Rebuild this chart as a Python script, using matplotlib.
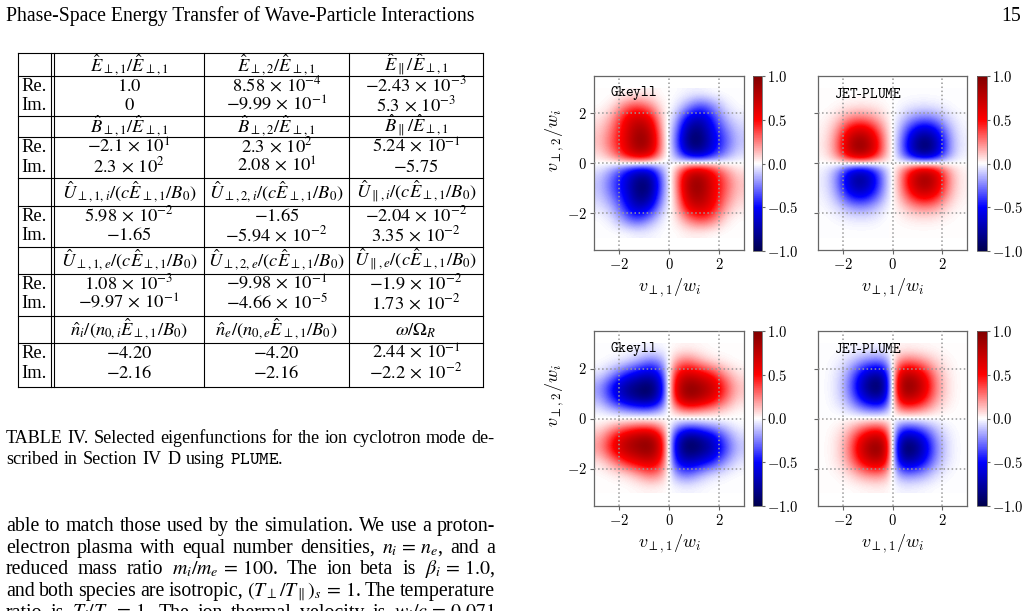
import numpy as np
import matplotlib
matplotlib.use("Agg")
import matplotlib.pyplot as plt
from matplotlib.ticker import FuncFormatter

plt.rcParams['mathtext.fontset'] = 'cm'

# ---- table data (ion cyclotron mode eigenfunctions) ----
row_names = ["Re.", "Im."]
table_headers = [
    [r"$\hat{E}_{\perp,1}/\hat{E}_{\perp,1}$", r"$\hat{E}_{\perp,2}/\hat{E}_{\perp,1}$", r"$\hat{E}_{\parallel}/\hat{E}_{\perp,1}$"],
    [r"$\hat{B}_{\perp,1}/\hat{E}_{\perp,1}$", r"$\hat{B}_{\perp,2}/\hat{E}_{\perp,1}$", r"$\hat{B}_{\parallel}/\hat{E}_{\perp,1}$"],
    [r"$\hat{U}_{\perp,1,i}/(c\hat{E}_{\perp,1}/B_0)$", r"$\hat{U}_{\perp,2,i}/(c\hat{E}_{\perp,1}/B_0)$", r"$\hat{U}_{\parallel,i}/(c\hat{E}_{\perp,1}/B_0)$"],
    [r"$\hat{U}_{\perp,1,e}/(c\hat{E}_{\perp,1}/B_0)$", r"$\hat{U}_{\perp,2,e}/(c\hat{E}_{\perp,1}/B_0)$", r"$\hat{U}_{\parallel,e}/(c\hat{E}_{\perp,1}/B_0)$"],
    [r"$\hat{n}_i/(n_{0,i}\hat{E}_{\perp,1}/B_0)$", r"$\hat{n}_e/(n_{0,e}\hat{E}_{\perp,1}/B_0)$", r"$\omega/\Omega_R$"],
]
re_values = [
    ["1.0", "8.58e-4", "-2.43e-3"],
    ["-2.1e1", "2.3e2", "5.24e-1"],
    ["5.98e-2", "-1.65", "-2.04e-2"],
    ["1.08e-3", "-9.98e-1", "-1.9e-2"],
    ["-4.20", "-4.20", "2.44e-1"],
]
im_values = [
    ["0", "-9.99e-1", "5.3e-3"],
    ["2.3e2", "2.08e1", "-5.75"],
    ["-1.65", "-5.94e-2", "3.35e-2"],
    ["-9.97e-1", "-4.66e-5", "1.73e-2"],
    ["-2.16", "-2.16", "-2.2e-2"],
]

# ---- velocity-space fields, nodes at v = -2.75 ... 2.75 (rows: top v2=2.75 -> bottom) ----
v_nodes = [-2.75, -2.25, -1.75, -1.25, -0.75, -0.25, 0.25, 0.75, 1.25, 1.75, 2.25, 2.75]

gkeyll_top = [
    [0.00, 0.00, 0.00, 0.02, 0.02, 0.00, 0.00, -0.02, -0.02, 0.00, 0.00, 0.00],
    [0.00, 0.05, 0.30, 0.40, 0.25, 0.02, -0.02, -0.20, -0.40, -0.25, -0.05, 0.00],
    [0.05, 0.20, 0.55, 0.75, 0.60, 0.05, -0.10, -0.60, -0.75, -0.45, -0.15, -0.05],
    [0.10, 0.30, 0.60, 0.90, 0.80, 0.10, -0.20, -0.85, -0.90, -0.55, -0.30, -0.10],
    [0.12, 0.35, 0.60, 0.95, 0.85, 0.15, -0.25, -0.90, -0.95, -0.60, -0.35, -0.12],
    [0.05, 0.20, 0.50, 0.70, 0.60, 0.10, -0.15, -0.55, -0.65, -0.45, -0.20, -0.05],
    [-0.05, -0.20, -0.45, -0.65, -0.60, -0.15, 0.10, 0.60, 0.70, 0.50, 0.20, 0.05],
    [-0.12, -0.35, -0.60, -0.90, -0.90, -0.25, 0.15, 0.85, 0.95, 0.60, 0.35, 0.12],
    [-0.10, -0.30, -0.55, -0.90, -0.85, -0.20, 0.10, 0.80, 0.90, 0.60, 0.30, 0.10],
    [-0.05, -0.15, -0.45, -0.75, -0.60, -0.10, 0.05, 0.60, 0.75, 0.55, 0.20, 0.05],
    [0.00, -0.05, -0.25, -0.40, -0.20, -0.02, 0.02, 0.25, 0.40, 0.30, 0.05, 0.00],
    [0.00, 0.00, 0.00, -0.02, -0.02, 0.00, 0.00, 0.02, 0.02, 0.00, 0.00, 0.00],
]

plume_top = [
    [0.00, 0.00, 0.00, 0.00, 0.00, 0.00, 0.00, 0.00, 0.00, 0.00, 0.00, 0.00],
    [0.00, 0.01, 0.04, 0.05, 0.04, 0.01, -0.01, -0.04, -0.05, -0.04, -0.01, 0.00],
    [0.01, 0.08, 0.24, 0.30, 0.21, 0.05, -0.05, -0.21, -0.30, -0.24, -0.08, -0.01],
    [0.02, 0.19, 0.60, 0.75, 0.53, 0.11, -0.11, -0.53, -0.75, -0.60, -0.19, -0.02],
    [0.03, 0.25, 0.80, 1.00, 0.70, 0.15, -0.15, -0.70, -1.00, -0.80, -0.25, -0.03],
    [0.02, 0.20, 0.64, 0.80, 0.56, 0.12, -0.12, -0.56, -0.80, -0.64, -0.20, -0.02],
    [-0.02, -0.17, -0.55, -0.69, -0.48, -0.10, 0.11, 0.53, 0.75, 0.60, 0.19, 0.02],
    [-0.03, -0.22, -0.70, -0.87, -0.61, -0.13, 0.14, 0.67, 0.95, 0.76, 0.24, 0.03],
    [-0.02, -0.16, -0.52, -0.64, -0.45, -0.10, 0.11, 0.49, 0.70, 0.56, 0.18, 0.02],
    [-0.01, -0.06, -0.18, -0.23, -0.16, -0.03, 0.04, 0.18, 0.25, 0.20, 0.06, 0.01],
    [0.00, -0.01, -0.03, -0.04, -0.03, 0.00, 0.01, 0.03, 0.04, 0.03, 0.01, 0.00],
    [0.00, 0.00, 0.00, 0.00, 0.00, 0.00, 0.00, 0.00, 0.00, 0.00, 0.00, 0.00],
]

gkeyll_bottom = [
    [0.00, 0.00, 0.00, -0.01, -0.02, -0.01, 0.01, 0.02, 0.01, 0.00, 0.00, 0.00],
    [0.00, -0.02, -0.05, -0.15, -0.30, -0.20, 0.20, 0.30, 0.15, 0.05, 0.02, 0.00],
    [-0.05, -0.20, -0.45, -0.60, -0.70, -0.45, 0.50, 0.70, 0.60, 0.45, 0.20, 0.05],
    [-0.20, -0.55, -0.80, -0.90, -1.00, -0.60, 0.65, 1.00, 0.90, 0.75, 0.40, 0.12],
    [-0.15, -0.45, -0.70, -0.85, -0.90, -0.50, 0.55, 0.90, 0.80, 0.60, 0.30, 0.08],
    [-0.02, -0.08, -0.15, -0.20, -0.20, -0.10, 0.10, 0.20, 0.15, 0.10, 0.05, 0.00],
    [0.02, 0.08, 0.15, 0.20, 0.20, 0.10, -0.10, -0.20, -0.15, -0.10, -0.05, 0.00],
    [0.15, 0.45, 0.70, 0.85, 0.90, 0.50, -0.55, -0.90, -0.80, -0.60, -0.30, -0.08],
    [0.20, 0.55, 0.80, 0.90, 1.00, 0.60, -0.65, -1.00, -0.90, -0.75, -0.40, -0.12],
    [0.05, 0.20, 0.45, 0.60, 0.70, 0.45, -0.50, -0.70, -0.60, -0.45, -0.20, -0.05],
    [0.00, 0.02, 0.05, 0.15, 0.30, 0.20, -0.20, -0.30, -0.15, -0.05, -0.02, 0.00],
    [0.00, 0.00, 0.00, 0.01, 0.02, 0.01, -0.01, -0.02, -0.01, 0.00, 0.00, 0.00],
]

plume_bottom = [
    [0.00, 0.00, -0.01, -0.01, -0.02, -0.02, 0.02, 0.02, 0.01, 0.01, 0.00, 0.00],
    [0.00, -0.02, -0.08, -0.21, -0.30, -0.26, 0.26, 0.30, 0.21, 0.08, 0.02, 0.00],
    [0.00, -0.04, -0.20, -0.56, -0.80, -0.68, 0.68, 0.80, 0.56, 0.20, 0.04, 0.00],
    [0.00, -0.05, -0.25, -0.70, -1.00, -0.85, 0.85, 1.00, 0.70, 0.25, 0.05, 0.00],
    [0.00, -0.04, -0.19, -0.53, -0.75, -0.64, 0.64, 0.75, 0.53, 0.19, 0.04, 0.00],
    [0.00, -0.01, -0.05, -0.14, -0.20, -0.17, 0.17, 0.20, 0.14, 0.05, 0.01, 0.00],
    [0.00, 0.01, 0.06, 0.15, 0.22, 0.19, -0.19, -0.22, -0.15, -0.06, -0.01, 0.00],
    [0.00, 0.04, 0.20, 0.55, 0.78, 0.66, -0.66, -0.78, -0.55, -0.20, -0.04, 0.00],
    [0.00, 0.05, 0.25, 0.70, 1.00, 0.85, -0.85, -1.00, -0.70, -0.25, -0.05, 0.00],
    [0.00, 0.04, 0.19, 0.53, 0.75, 0.64, -0.64, -0.75, -0.53, -0.19, -0.04, 0.00],
    [0.00, 0.01, 0.06, 0.18, 0.25, 0.21, -0.21, -0.25, -0.18, -0.06, -0.01, 0.00],
    [0.00, 0.00, 0.00, 0.01, 0.02, 0.02, -0.02, -0.02, -0.01, 0.00, 0.00, 0.00],
]

caption_lines = [
    "TABLE IV. Selected eigenfunctions for the ion cyclotron mode de-",
    "scribed in Section IV D using PLUME.",
]
body_lines = [
    "able to match those used by the simulation. We use a proton-",
    r"electron plasma with equal number densities, $n_i\,=\,n_e$, and a",
    r"reduced mass ratio $m_i/m_e\,=\,100$. The ion beta is $\beta_i\,=\,1.0$,",
    r"and both species are isotropic, $(T_\perp/T_\parallel)_s\,=\,1$. The temperature",
    r"ratio is $T_i/T_e\,=\,1$. The ion thermal velocity is $w_i/c\,=\,0.071$",
]

W, H = 1027, 611
SERIF = "Liberation Serif"
fig = plt.figure(figsize=(W / 100, H / 100), dpi=100)
page = fig.add_axes([0, 0, 1, 1])
page.set_xlim(0, W)
page.set_ylim(H, 0)
page.axis("off")
renderer = fig.canvas.get_renderer()


def num(s):
    if "e" in s:
        m, e = s.split("e")
        return rf"${m}\,\times\,10^{{{int(e)}}}$"
    return f"${s}$"


def put_line(words, x0, x1, y, size, justify=True):
    arts = []
    for w in words:
        kw = dict(fontsize=size, family=SERIF, math_fontfamily="stix", va="baseline", ha="left")
        if "PLUME" in w:
            w = r"$\mathtt{PLUME}$."
            kw["math_fontfamily"] = "cm"
        arts.append(page.text(x0, y, w, **kw))
    widths = [a.get_window_extent(renderer).width for a in arts]
    if justify and len(arts) > 1:
        gap = (x1 - x0 - sum(widths)) / (len(arts) - 1)
    else:
        gap = size * 100 / 72 * 0.3
    x = x0
    for a, w in zip(arts, widths):
        a.set_x(x)
        x += w + gap


# running head
page.text(6, 21, "Phase-Space Energy Transfer of Wave-Particle Interactions", fontsize=14.2,
          family=SERIF, va="baseline")
page.text(1021, 21, "15", fontsize=14.2, family=SERIF, va="baseline", ha="right")

# table
row_lines = [53, 76, 116, 137, 178, 206, 247, 274, 316, 343, 387]
col_lines = [18, 51, 54, 204, 349, 483]
col_centers = [129, 276.5, 416]
for y in row_lines:
    page.plot([col_lines[0], col_lines[-1]], [y, y], color="black", lw=0.8)
for x in col_lines:
    page.plot([x, x], [row_lines[0], row_lines[-1]], color="black", lw=0.8)

tsize = 13.3
tkw = dict(fontsize=tsize, ha="center", va="baseline", math_fontfamily="stix", family=SERIF)
for g in range(len(table_headers)):
    top, mid, bot = row_lines[2 * g], row_lines[2 * g + 1], row_lines[2 * g + 2]
    head_off = 4.5 if g < 2 else 7.5
    for c in range(3):
        page.text(col_centers[c], mid - head_off, table_headers[g][c], **tkw)
        page.text(col_centers[c], mid + 15, num(re_values[g][c]), **tkw)
        page.text(col_centers[c], mid + 34.5, num(im_values[g][c]), **tkw)
    page.text(21, mid + 15, row_names[0], fontsize=tsize, va="baseline", family=SERIF)
    page.text(21, mid + 34.5, row_names[1], fontsize=tsize, va="baseline", family=SERIF)

# caption and body text
put_line(caption_lines[0].split(" "), 6, 494, 443, 13.1)
put_line(caption_lines[1].split(" "), 6, 494, 464, 13.1, justify=False)
for i, line in enumerate(body_lines):
    put_line(line.split(" "), 6, 495, 531 + 21.7 * i, 14.3)

# ---- velocity-space panels ----
step = v_nodes[1] - v_nodes[0]
extent = [v_nodes[0] - step / 2, v_nodes[-1] + step / 2, v_nodes[0] - step / 2, v_nodes[-1] + step / 2]
tick_fmt = FuncFormatter(lambda v, p: f"${v + 0:.0f}$")
cbar_fmt = FuncFormatter(lambda v, p: f"${v + 0:.1f}$")
spine_col = "#666666"


def px_axes(x0, y0, x1, y1):
    return fig.add_axes([x0 / W, 1 - y1 / H, (x1 - x0) / W, (y1 - y0) / H])


def panel(box, cbox, field, code, left):
    ax = px_axes(*box)
    im = ax.imshow(np.array(field), cmap="seismic", vmin=-1, vmax=1, extent=extent,
                   interpolation="bicubic", aspect="auto", zorder=0)
    ax.set_xlim(-3, 3)
    ax.set_ylim(-3.5, 3.5)
    ax.set_xticks([-2, 0, 2])
    ax.set_yticks([-2, 0, 2])
    ax.xaxis.set_major_formatter(tick_fmt)
    ax.yaxis.set_major_formatter(tick_fmt)
    ax.grid(True, ls=":", color="#999999", lw=1.1)
    ax.set_axisbelow(False)
    ax.tick_params(labelsize=10.5, length=3, width=0.8, color=spine_col, pad=2)
    for s in ax.spines.values():
        s.set_color(spine_col)
        s.set_linewidth(0.9)
    ax.set_xlabel(r"$v_{\perp,1}/w_i$", fontsize=13, labelpad=3)
    if left:
        ax.set_ylabel(r"$v_{\perp,2}/w_i$", fontsize=13)
        ax.yaxis.set_label_coords(-0.19, 0.63)
    else:
        ax.tick_params(labelleft=False)
    ax.text(0.107, 0.9, code, transform=ax.transAxes, fontsize=10.5, va="center", ha="left")
    cax = px_axes(*cbox)
    cb = fig.colorbar(im, cax=cax, ticks=[-1, -0.5, 0, 0.5, 1])
    cb.ax.yaxis.set_major_formatter(cbar_fmt)
    cb.ax.tick_params(labelsize=10.5, length=2.5, width=0.8, color=spine_col, pad=1)
    cb.outline.set_linewidth(0.6)
    cb.outline.set_edgecolor(spine_col)


panel((594, 76, 744, 250), (753, 76, 762, 251), gkeyll_top, r"$\mathtt{Gkeyll}$", True)
panel((818, 76, 967, 250), (977, 76, 987, 251), plume_top, r"$\mathtt{JET\text{-}PLUME}$", False)
panel((594, 331, 744, 506), (753, 331, 762, 506), gkeyll_bottom, r"$\mathtt{Gkeyll}$", True)
panel((818, 331, 967, 506), (977, 331, 987, 506), plume_bottom, r"$\mathtt{JET\text{-}PLUME}$", False)

fig.savefig("out.png", dpi=100)
